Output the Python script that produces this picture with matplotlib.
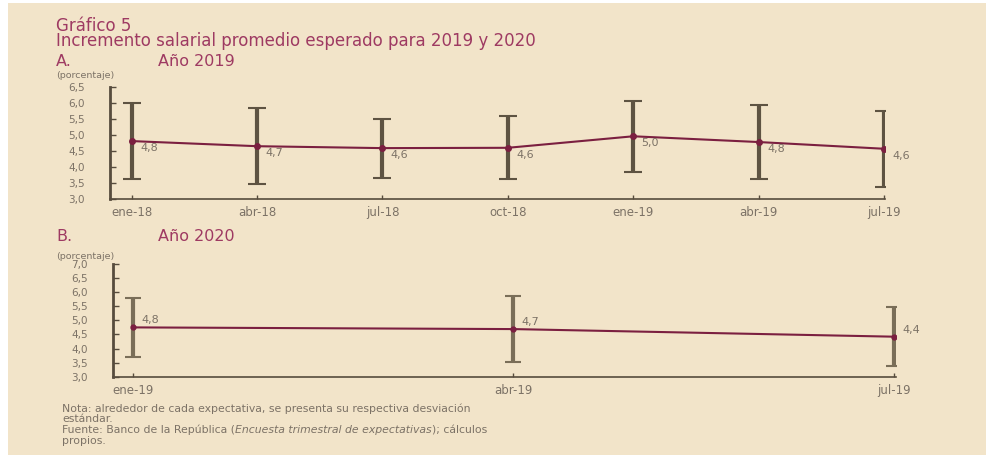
import matplotlib.pyplot as plt
import numpy as np

# data (panel A: 2019, panel B: 2020)
cats_a = ["ene-18", "abr-18", "jul-18", "oct-18", "ene-19", "abr-19", "jul-19"]
mean_a = [4.81, 4.65, 4.59, 4.60, 4.96, 4.78, 4.57]
sd_a = [1.19, 1.18, 0.92, 0.98, 1.11, 1.15, 1.18]
labels_a = ["4,8", "4,7", "4,6", "4,6", "5,0", "4,8", "4,6"]

cats_b = ["ene-19", "abr-19", "jul-19"]
mean_b = [4.75, 4.69, 4.42]
sd_b = [1.04, 1.16, 1.05]
labels_b = ["4,8", "4,7", "4,4"]

yticks_a = [3.0, 3.5, 4.0, 4.5, 5.0, 5.5, 6.0, 6.5]
yticks_b = [3.0, 3.5, 4.0, 4.5, 5.0, 5.5, 6.0, 6.5, 7.0]

W, H = 986, 461
bg = "#F2E4C9"
maroon_t = "#9E3A62"
line_c = "#7B1F40"
grey_t = "#7C7266"
axis_c = "#574C3D"

plt.rcParams['font.family'] = ['DejaVu Sans']

fig = plt.figure(figsize=(W / 100, H / 100), dpi=100, facecolor="white")


def px(x, y):
    return x / W, 1 - y / H


# beige panel
fig.patches.append(plt.Rectangle((8 / W, 6 / H), 1 - 8 / W, 452 / H,
                                 transform=fig.transFigure, facecolor=bg,
                                 edgecolor="none", zorder=-5))

# titles
fig.text(*px(56, 46), "Gráfico 5\nIncremento salarial promedio esperado para 2019 y 2020",
         color=maroon_t, fontsize=12, va="baseline", linespacing=0.8)
fig.text(*px(56, 66), "A.", color=maroon_t, fontsize=11.5, va="baseline")
fig.text(*px(158, 66), "Año 2019", color=maroon_t, fontsize=11.5, va="baseline")
fig.text(*px(56, 78), "(porcentaje)", color=grey_t, fontsize=6.8, va="baseline")
fig.text(*px(56, 241), "B.", color=maroon_t, fontsize=11.5, va="baseline")
fig.text(*px(158, 241), "Año 2020", color=maroon_t, fontsize=11.5, va="baseline")
fig.text(*px(56, 259), "(porcentaje)", color=grey_t, fontsize=6.8, va="baseline")


def style_axes(ax, yticks, xlabels):
    ax.set_facecolor("none")
    for s in ["top", "right"]:
        ax.spines[s].set_visible(False)
    ax.spines["left"].set_color(axis_c)
    ax.spines["left"].set_linewidth(2)
    ax.spines["bottom"].set_color(axis_c)
    ax.spines["bottom"].set_linewidth(1.2)
    ax.set_yticks(yticks)
    ax.set_yticklabels([f"{v:.1f}".replace(".", ",") for v in yticks])
    ax.set_xticks(range(len(xlabels)))
    ax.set_xticklabels(xlabels)
    ax.tick_params(axis="y", direction="in", length=4, width=1, color=axis_c,
                   labelsize=7.5, labelcolor=grey_t, pad=18)
    ax.tick_params(axis="x", direction="in", length=3, width=1, color=axis_c,
                   labelsize=8.5, labelcolor=grey_t, pad=5)


# panel A
axA = fig.add_axes([110 / W, 1 - 199 / H, 775 / W, 112 / H])
xa = np.arange(len(cats_a))
axA.errorbar(xa, mean_a, yerr=sd_a, fmt="none", ecolor="#5E5342",
             elinewidth=3, capsize=6.5, capthick=1.5, zorder=2)
axA.plot(xa, mean_a, color=line_c, lw=1.5, marker="o", ms=4, zorder=3)
for x, y, t in zip(xa, mean_a, labels_a):
    axA.annotate(t, (x, y), xytext=(6, -5), textcoords="offset points",
                 ha="left", va="center", fontsize=8, color=grey_t)
axA.set_xlim(-0.173, 6.008)
axA.set_ylim(3.0, 6.5)
style_axes(axA, yticks_a, cats_a)

# panel B
axB = fig.add_axes([112.7 / W, 1 - 376.7 / H, 783.3 / W, 112.7 / H])
xb = np.arange(len(cats_b))
axB.errorbar(xb, mean_b, yerr=sd_b, fmt="none", ecolor="#7A6E58",
             elinewidth=3, capsize=5.5, capthick=1.5, zorder=2)
axB.plot(xb, mean_b, color=line_c, lw=1.5, marker="o", ms=3.5, zorder=3)
for x, y, t in zip(xb, mean_b, labels_b):
    axB.annotate(t, (x, y), xytext=(6, 5), textcoords="offset points",
                 ha="left", va="center", fontsize=8, color=grey_t)
axB.set_xlim(-0.0525, 2.0045)
axB.set_ylim(3.0, 7.0)
style_axes(axB, yticks_b, cats_b)

# notes, one text per line so the italic part can sit inside the Fuente line
note_fs = 7.8
fig.text(*px(62, 412), "Nota: alrededor de cada expectativa, se presenta su respectiva desviación",
         color=grey_t, fontsize=note_fs, va="baseline")
fig.text(*px(62, 422), "estándar.", color=grey_t, fontsize=note_fs, va="baseline")
renderer = fig.canvas.get_renderer()
x0 = 62
parts = [("Fuente: Banco de la República (", "normal"),
         ("Encuesta trimestral de expectativas", "italic"),
         ("); cálculos", "normal")]
for txt, st in parts:
    t = fig.text(*px(x0, 433), txt, color=grey_t, fontsize=note_fs,
                 style=st, va="baseline")
    x0 += t.get_window_extent(renderer).width
fig.text(*px(62, 444), "propios.", color=grey_t, fontsize=note_fs, va="baseline")

fig.savefig("out.png", dpi=100, facecolor="white")
